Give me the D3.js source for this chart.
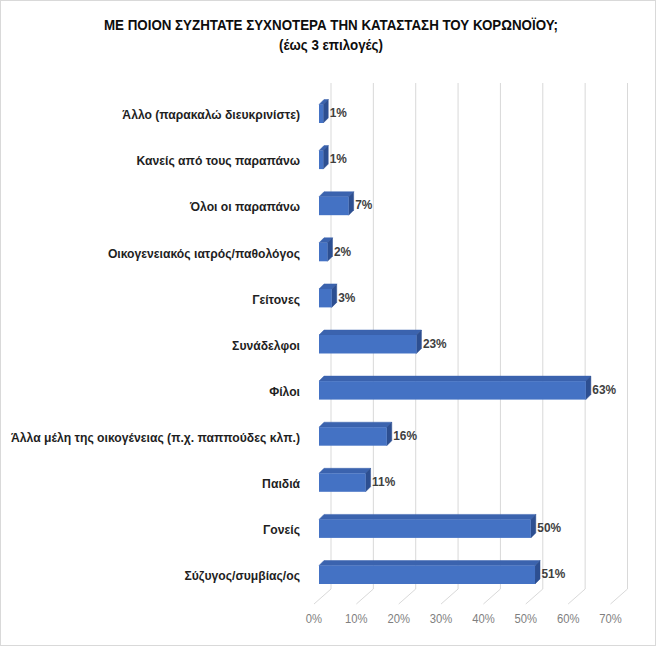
<!DOCTYPE html>
<html>
<head>
<meta charset="utf-8">
<script src="https://cdn.jsdelivr.net/npm/d3@7"></script>
<style>
  html, body { margin: 0; padding: 0; background: #fff; }
  svg { display: block; }
  text { font-family: "Liberation Sans", "DejaVu Sans", sans-serif; }
</style>
</head>
<body>
<svg id="chart" width="658" height="649"></svg>
<script>
// ---- data ----
const titleLines = ["ΜΕ ΠΟΙΟΝ ΣΥΖΗΤΑΤΕ ΣΥΧΝΟΤΕΡΑ ΤΗΝ ΚΑΤΑΣΤΑΣΗ ΤΟΥ ΚΟΡΩΝΟΪΟΥ;", "(έως 3 επιλογές)"];
const categories = [
  "Άλλο (παρακαλώ διευκρινίστε)",
  "Κανείς από τους παραπάνω",
  "Όλοι οι παραπάνω",
  "Οικογενειακός ιατρός/παθολόγος",
  "Γείτονες",
  "Συνάδελφοι",
  "Φίλοι",
  "Άλλα μέλη της οικογένειας (π.χ. παππούδες κλπ.)",
  "Παιδιά",
  "Γονείς",
  "Σύζυγος/συμβίας/ος"
];
const values = [1, 1, 7, 2, 3, 23, 63, 16, 11, 50, 51];
const xTicks = [0, 10, 20, 30, 40, 50, 60, 70];

// ---- layout ----
const svg = d3.select("#chart");
const W = 658, H = 649;

svg.append("rect").attr("x", 0.5).attr("y", 0.5).attr("width", W - 3).attr("height", H - 4)
  .attr("fill", "#fff").attr("stroke", "#d9d9d9");

const xFront = d3.scaleLinear().domain([0, 70]).range([314, 610.5]);
const backDx = 17, backDy = -15;
const barDx = 5;
const floorY = 604;
const gridTop = 83;

const grid = svg.append("g").attr("stroke", "#d9d9d9").attr("stroke-width", 1).attr("fill", "none");
xTicks.forEach(t => {
  const xf = xFront(t), xb = xf + backDx;
  grid.append("path")
    .attr("d", `M${xb},${gridTop}L${xb},${floorY + backDy}L${xf},${floorY}`);
});

svg.append("g").selectAll("text").data(xTicks).join("text")
  .attr("class", "tick")
  .attr("x", d => xFront(d)).attr("y", 619)
  .attr("text-anchor", "middle").attr("dominant-baseline", "central")
  .attr("font-size", 12.5).attr("fill", "#7f7f7f")
  .text(d => d + "%");

const y = d3.scaleBand().domain(categories).range([90.7, 597.8]).paddingInner(0.599).paddingOuter(0.2995);
const xBar = v => xFront(v) + barDx;
const depthX = 5, depthY = 5;

const bars = svg.append("g").selectAll("g").data(categories).join("g");
bars.each(function(c, i) {
  const g = d3.select(this);
  const v = values[i];
  const x0 = xBar(0), x1 = xBar(v), y0 = y(c), y1 = y(c) + y.bandwidth();
  g.append("path").attr("d", `M${x0},${y0}L${x0 + depthX},${y0 - depthY}L${x1 + depthX},${y0 - depthY}L${x1},${y0}Z`)
    .attr("fill", "#3b63ae").attr("stroke", "#3b63ae").attr("stroke-width", 0.5);
  g.append("path").attr("d", `M${x1},${y0}L${x1 + depthX},${y0 - depthY}L${x1 + depthX},${y1 - depthY}L${x1},${y1}Z`)
    .attr("fill", "#2d4f91").attr("stroke", "#2d4f91").attr("stroke-width", 0.5);
  g.append("rect").attr("x", x0).attr("y", y0).attr("width", x1 - x0).attr("height", y1 - y0)
    .attr("fill", "#4472c4");
  g.append("text").attr("class", "val").attr("x", x1 + depthX + 1.5).attr("y", (y0 + y1) / 2 - 1)
    .attr("dominant-baseline", "central").attr("font-size", 13.5).attr("font-weight", "bold")
    .attr("fill", "#404040").text(v + "%");
  g.append("text").attr("class", "cat").attr("x", 300).attr("y", (y0 + y1) / 2 + 1)
    .attr("text-anchor", "end").attr("dominant-baseline", "central")
    .attr("font-size", 13).attr("font-weight", "bold").attr("fill", "#1f1f1f")
    .text(c);
});

const title = svg.append("g");
title.selectAll("text").data(titleLines).join("text")
  .attr("x", 331).attr("y", (d, i) => 25 + i * 20)
  .attr("text-anchor", "middle").attr("dominant-baseline", "central")
  .attr("font-size", 14.5).attr("font-weight", "bold").attr("fill", "#0d0d0d")
  .text(d => d);

// compress glyphs horizontally (Calibri-like proportions) so widths match the reference
function squeeze(sel, factor) {
  sel.each(function() {
    const w = this.getComputedTextLength();
    d3.select(this).attr("textLength", (w * factor).toFixed(2)).attr("lengthAdjust", "spacingAndGlyphs");
  });
}
const tW = title.select("text").node().getComputedTextLength();
squeeze(title.selectAll("text"), 454 / tW);

let lw = 0;
svg.selectAll("text.cat").each(function() { lw = Math.max(lw, this.getComputedTextLength()); });
squeeze(svg.selectAll("text.cat"), 289 / lw);
squeeze(svg.selectAll("text.val"), 0.88);
squeeze(svg.selectAll("text.tick"), 0.9);
</script>
</body>
</html>
